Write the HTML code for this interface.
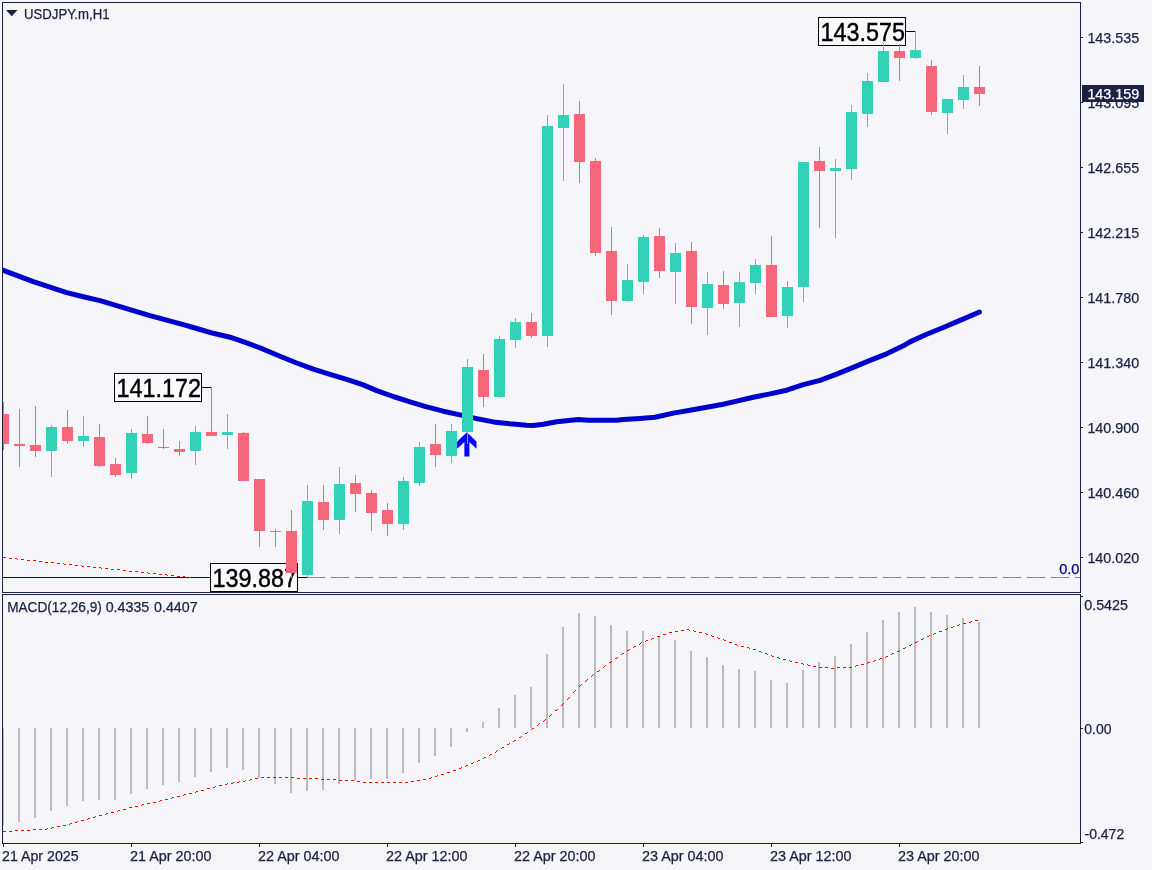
<!DOCTYPE html>
<html lang="en"><head><meta charset="utf-8"><title>USDJPY.m,H1</title>
<style>html,body{margin:0;padding:0;background:#f5f5fa;}body{width:1152px;height:870px;overflow:hidden;}svg{display:block;}text{font-family:"Liberation Sans",sans-serif;font-size:14px;fill:#1c2143;stroke:#1c2143;stroke-width:0.25px;}.big{font-size:25.8px;fill:#000;stroke:#000;stroke-width:0.45px;}</style></head><body>
<svg width="1152" height="870" viewBox="0 0 1152 870">
<rect x="0" y="0" width="1152" height="870" fill="#f5f5fa"/>
<g shape-rendering="crispEdges" fill="#1c2143">
<rect x="2" y="2" width="1079" height="1"/>
<rect x="2" y="2" width="1" height="591"/>
<rect x="2" y="592" width="1079" height="1"/>
<rect x="1080" y="2" width="1" height="591"/>
<rect x="2" y="594" width="1079" height="1"/>
<rect x="2" y="594" width="1" height="250"/>
<rect x="1080" y="594" width="1" height="250"/>
<rect x="2" y="843" width="1079" height="1"/>
<rect x="1081" y="37" width="2" height="1"/>
<rect x="1081" y="102" width="2" height="1"/>
<rect x="1081" y="167" width="2" height="1"/>
<rect x="1081" y="232" width="2" height="1"/>
<rect x="1081" y="297" width="2" height="1"/>
<rect x="1081" y="362" width="2" height="1"/>
<rect x="1081" y="427" width="2" height="1"/>
<rect x="1081" y="492" width="2" height="1"/>
<rect x="1081" y="557" width="2" height="1"/>
<rect x="1081" y="596" width="2" height="1"/>
<rect x="1081" y="728" width="2" height="1"/>
<rect x="1081" y="842" width="2" height="1"/>
<rect x="3" y="844" width="1" height="3"/>
<rect x="131" y="844" width="1" height="3"/>
<rect x="259" y="844" width="1" height="3"/>
<rect x="387" y="844" width="1" height="3"/>
<rect x="515" y="844" width="1" height="3"/>
<rect x="643" y="844" width="1" height="3"/>
<rect x="771" y="844" width="1" height="3"/>
<rect x="899" y="844" width="1" height="3"/>
</g>
<defs><clipPath id="cm"><rect x="3" y="3" width="1077" height="589"/></clipPath><clipPath id="cs"><rect x="3" y="595" width="1077" height="248"/></clipPath></defs>
<g clip-path="url(#cm)">
<g shape-rendering="crispEdges">
<rect x="3" y="577" width="208" height="1" fill="#000080"/>
<rect x="298" y="577" width="10" height="1" fill="#000"/>
<rect x="307" y="577" width="18" height="1" fill="#8c8c8c"/>
<rect x="331" y="577" width="18" height="1" fill="#8c8c8c"/>
<rect x="355" y="577" width="18" height="1" fill="#8c8c8c"/>
<rect x="379" y="577" width="18" height="1" fill="#8c8c8c"/>
<rect x="403" y="577" width="18" height="1" fill="#8c8c8c"/>
<rect x="427" y="577" width="18" height="1" fill="#8c8c8c"/>
<rect x="451" y="577" width="18" height="1" fill="#8c8c8c"/>
<rect x="475" y="577" width="18" height="1" fill="#8c8c8c"/>
<rect x="499" y="577" width="18" height="1" fill="#8c8c8c"/>
<rect x="523" y="577" width="18" height="1" fill="#8c8c8c"/>
<rect x="547" y="577" width="18" height="1" fill="#8c8c8c"/>
<rect x="571" y="577" width="18" height="1" fill="#8c8c8c"/>
<rect x="595" y="577" width="18" height="1" fill="#8c8c8c"/>
<rect x="619" y="577" width="18" height="1" fill="#8c8c8c"/>
<rect x="643" y="577" width="18" height="1" fill="#8c8c8c"/>
<rect x="667" y="577" width="18" height="1" fill="#8c8c8c"/>
<rect x="691" y="577" width="18" height="1" fill="#8c8c8c"/>
<rect x="715" y="577" width="18" height="1" fill="#8c8c8c"/>
<rect x="739" y="577" width="18" height="1" fill="#8c8c8c"/>
<rect x="763" y="577" width="18" height="1" fill="#8c8c8c"/>
<rect x="787" y="577" width="18" height="1" fill="#8c8c8c"/>
<rect x="811" y="577" width="18" height="1" fill="#8c8c8c"/>
<rect x="835" y="577" width="18" height="1" fill="#8c8c8c"/>
<rect x="859" y="577" width="18" height="1" fill="#8c8c8c"/>
<rect x="883" y="577" width="18" height="1" fill="#8c8c8c"/>
<rect x="907" y="577" width="18" height="1" fill="#8c8c8c"/>
<rect x="931" y="577" width="18" height="1" fill="#8c8c8c"/>
<rect x="955" y="577" width="18" height="1" fill="#8c8c8c"/>
<rect x="979" y="577" width="18" height="1" fill="#8c8c8c"/>
<rect x="1003" y="577" width="18" height="1" fill="#8c8c8c"/>
<rect x="1027" y="577" width="18" height="1" fill="#8c8c8c"/>
<rect x="1051" y="577" width="18" height="1" fill="#8c8c8c"/>
<rect x="1075" y="577" width="5" height="1" fill="#8c8c8c"/>
</g>
<path d="M3 557h3M9 558h3M15 558h2M17 559h1M21 559h3M27 560h3M33 560h3M39 561h3M45 562h3M51 562h3M57 563h3M63 563h1M64 564h2M69 564h3M75 565h3M81 565h1M82 566h2M87 566h3M93 567h3M99 567h2M101 568h1M105 568h3M111 569h3M117 569h3M123 570h3M129 571h3M135 571h3M141 572h3M147 572h1M148 573h2M153 573h3M159 574h3M165 574h2M167 575h1M171 575h3M177 576h3M183 576h2M185 577h1M189 577h2" transform="translate(0,0.5)" stroke="#ff0000" stroke-width="1" fill="none" shape-rendering="crispEdges"/>
<path d="M1.0 269.7 L3.3 270.4 L16.7 275.4 L33.3 281.6 L50.0 287.1 L66.7 292.6 L83.3 296.7 L100.0 300.6 L116.7 305.6 L133.3 310.6 L150.0 315.6 L166.7 320.2 L183.3 324.6 L196.7 328.5 L213.3 333.3 L230.0 337.2 L246.7 342.9 L263.3 349.2 L280.0 356.3 L296.7 363.0 L313.3 369.2 L330.0 374.4 L346.7 379.4 L363.3 384.9 L376.7 390.6 L393.3 396.5 L410.0 401.8 L426.7 406.9 L443.3 411.2 L460.0 414.9 L476.7 418.6 L493.3 421.9 L510.0 423.8 L526.7 425.2 L533.3 425.4 L543.3 424.3 L556.7 421.7 L578.3 419.5 L588.3 420.3 L616.7 420.3 L623.3 419.5 L640.0 418.5 L655.0 417.3 L673.3 413.1 L690.0 410.2 L706.7 407.3 L723.3 404.2 L736.7 401.1 L753.3 397.2 L770.0 393.9 L786.7 390.2 L803.3 384.6 L820.0 380.4 L836.7 374.1 L853.3 367.4 L870.0 360.4 L886.7 353.8 L903.3 345.8 L910.0 341.9 L926.7 334.3 L943.3 327.5 L960.0 320.4 L976.7 313.2 L979.5 312.0" stroke="#0000cd" stroke-width="5" fill="none" stroke-linejoin="round" stroke-linecap="round"/>
<rect x="818.5" y="17.5" width="87" height="28" fill="#fafafc" stroke="#000" stroke-width="1" shape-rendering="crispEdges"/>
<text class="big" x="820.5" y="40.6" textLength="84.5" lengthAdjust="spacingAndGlyphs">143.575</text>
<rect x="114.5" y="373.5" width="87" height="28" fill="#fafafc" stroke="#000" stroke-width="1" shape-rendering="crispEdges"/>
<text class="big" x="116.5" y="396.6" textLength="84.5" lengthAdjust="spacingAndGlyphs">141.172</text>
<rect x="210.5" y="563.5" width="87" height="28" fill="#fafafc" stroke="#000" stroke-width="1" shape-rendering="crispEdges"/>
<text class="big" x="212.5" y="586.6" textLength="84.5" lengthAdjust="spacingAndGlyphs">139.887</text>
<g shape-rendering="crispEdges" fill="#000">
<rect x="906" y="31" width="10" height="1"/>
<rect x="202" y="387" width="10" height="1"/>
</g>
<g shape-rendering="crispEdges">
<rect x="3" y="402" width="1" height="48" fill="#f7677a"/>
<rect x="3" y="414" width="6" height="30" fill="#f7677a"/>
<rect x="19" y="409" width="1" height="58" fill="#f7677a"/>
<rect x="14" y="444" width="11" height="2" fill="#f7677a"/>
<rect x="35" y="406" width="1" height="51" fill="#f7677a"/>
<rect x="30" y="445" width="11" height="6" fill="#f7677a"/>
<rect x="51" y="425" width="1" height="52" fill="#33d1b8"/>
<rect x="46" y="427" width="11" height="24" fill="#33d1b8"/>
<rect x="67" y="410" width="1" height="34" fill="#f7677a"/>
<rect x="62" y="427" width="11" height="14" fill="#f7677a"/>
<rect x="83" y="416" width="1" height="31" fill="#33d1b8"/>
<rect x="78" y="436" width="11" height="5" fill="#33d1b8"/>
<rect x="99" y="424" width="1" height="43" fill="#f7677a"/>
<rect x="94" y="437" width="11" height="29" fill="#f7677a"/>
<rect x="115" y="458" width="1" height="19" fill="#f7677a"/>
<rect x="110" y="464" width="11" height="11" fill="#f7677a"/>
<rect x="131" y="429" width="1" height="50" fill="#33d1b8"/>
<rect x="126" y="433" width="11" height="40" fill="#33d1b8"/>
<rect x="147" y="416" width="1" height="28" fill="#f7677a"/>
<rect x="142" y="434" width="11" height="9" fill="#f7677a"/>
<rect x="163" y="429" width="1" height="20" fill="#f7677a"/>
<rect x="158" y="447" width="11" height="1" fill="#f7677a"/>
<rect x="179" y="441" width="1" height="15" fill="#f7677a"/>
<rect x="174" y="449" width="11" height="3" fill="#f7677a"/>
<rect x="195" y="426" width="1" height="39" fill="#33d1b8"/>
<rect x="190" y="432" width="11" height="19" fill="#33d1b8"/>
<rect x="211" y="387" width="1" height="49" fill="#f7677a"/>
<rect x="206" y="432" width="11" height="4" fill="#f7677a"/>
<rect x="227" y="414" width="1" height="35" fill="#33d1b8"/>
<rect x="222" y="432" width="11" height="3" fill="#33d1b8"/>
<rect x="243" y="432" width="1" height="49" fill="#f7677a"/>
<rect x="238" y="433" width="11" height="48" fill="#f7677a"/>
<rect x="259" y="479" width="1" height="68" fill="#f7677a"/>
<rect x="254" y="479" width="11" height="52" fill="#f7677a"/>
<rect x="275" y="529" width="1" height="18" fill="#f7677a"/>
<rect x="270" y="531" width="11" height="1" fill="#f7677a"/>
<rect x="291" y="510" width="1" height="68" fill="#f7677a"/>
<rect x="286" y="531" width="11" height="42" fill="#f7677a"/>
<rect x="307" y="485" width="1" height="93" fill="#33d1b8"/>
<rect x="302" y="501" width="11" height="74" fill="#33d1b8"/>
<rect x="323" y="485" width="1" height="45" fill="#f7677a"/>
<rect x="318" y="502" width="11" height="18" fill="#f7677a"/>
<rect x="339" y="467" width="1" height="67" fill="#33d1b8"/>
<rect x="334" y="484" width="11" height="36" fill="#33d1b8"/>
<rect x="355" y="475" width="1" height="37" fill="#f7677a"/>
<rect x="350" y="483" width="11" height="11" fill="#f7677a"/>
<rect x="371" y="490" width="1" height="41" fill="#f7677a"/>
<rect x="366" y="493" width="11" height="20" fill="#f7677a"/>
<rect x="387" y="503" width="1" height="33" fill="#f7677a"/>
<rect x="382" y="510" width="11" height="14" fill="#f7677a"/>
<rect x="403" y="477" width="1" height="53" fill="#33d1b8"/>
<rect x="398" y="481" width="11" height="43" fill="#33d1b8"/>
<rect x="419" y="442" width="1" height="44" fill="#33d1b8"/>
<rect x="414" y="447" width="11" height="36" fill="#33d1b8"/>
<rect x="435" y="424" width="1" height="43" fill="#f7677a"/>
<rect x="430" y="444" width="11" height="11" fill="#f7677a"/>
<rect x="451" y="424" width="1" height="39" fill="#33d1b8"/>
<rect x="446" y="431" width="11" height="25" fill="#33d1b8"/>
<rect x="467" y="359" width="1" height="85" fill="#33d1b8"/>
<rect x="462" y="367" width="11" height="65" fill="#33d1b8"/>
<rect x="483" y="354" width="1" height="53" fill="#f7677a"/>
<rect x="478" y="370" width="11" height="27" fill="#f7677a"/>
<rect x="499" y="336" width="1" height="62" fill="#33d1b8"/>
<rect x="494" y="339" width="11" height="58" fill="#33d1b8"/>
<rect x="515" y="318" width="1" height="30" fill="#33d1b8"/>
<rect x="510" y="322" width="11" height="18" fill="#33d1b8"/>
<rect x="531" y="313" width="1" height="25" fill="#f7677a"/>
<rect x="526" y="322" width="11" height="14" fill="#f7677a"/>
<rect x="547" y="115" width="1" height="232" fill="#33d1b8"/>
<rect x="542" y="126" width="11" height="210" fill="#33d1b8"/>
<rect x="563" y="84" width="1" height="97" fill="#33d1b8"/>
<rect x="558" y="115" width="11" height="13" fill="#33d1b8"/>
<rect x="579" y="101" width="1" height="82" fill="#f7677a"/>
<rect x="574" y="114" width="11" height="48" fill="#f7677a"/>
<rect x="595" y="158" width="1" height="98" fill="#f7677a"/>
<rect x="590" y="161" width="11" height="92" fill="#f7677a"/>
<rect x="611" y="227" width="1" height="88" fill="#f7677a"/>
<rect x="606" y="251" width="11" height="50" fill="#f7677a"/>
<rect x="627" y="264" width="1" height="38" fill="#33d1b8"/>
<rect x="622" y="280" width="11" height="21" fill="#33d1b8"/>
<rect x="643" y="235" width="1" height="59" fill="#33d1b8"/>
<rect x="638" y="237" width="11" height="45" fill="#33d1b8"/>
<rect x="659" y="228" width="1" height="50" fill="#f7677a"/>
<rect x="654" y="236" width="11" height="35" fill="#f7677a"/>
<rect x="675" y="243" width="1" height="61" fill="#33d1b8"/>
<rect x="670" y="253" width="11" height="19" fill="#33d1b8"/>
<rect x="691" y="242" width="1" height="82" fill="#f7677a"/>
<rect x="686" y="251" width="11" height="56" fill="#f7677a"/>
<rect x="707" y="272" width="1" height="63" fill="#33d1b8"/>
<rect x="702" y="284" width="11" height="24" fill="#33d1b8"/>
<rect x="723" y="271" width="1" height="38" fill="#f7677a"/>
<rect x="718" y="285" width="11" height="19" fill="#f7677a"/>
<rect x="739" y="272" width="1" height="55" fill="#33d1b8"/>
<rect x="734" y="282" width="11" height="21" fill="#33d1b8"/>
<rect x="755" y="259" width="1" height="35" fill="#33d1b8"/>
<rect x="750" y="265" width="11" height="18" fill="#33d1b8"/>
<rect x="771" y="236" width="1" height="81" fill="#f7677a"/>
<rect x="766" y="265" width="11" height="52" fill="#f7677a"/>
<rect x="787" y="281" width="1" height="47" fill="#33d1b8"/>
<rect x="782" y="287" width="11" height="29" fill="#33d1b8"/>
<rect x="803" y="162" width="1" height="140" fill="#33d1b8"/>
<rect x="798" y="162" width="11" height="125" fill="#33d1b8"/>
<rect x="819" y="147" width="1" height="81" fill="#f7677a"/>
<rect x="814" y="161" width="11" height="10" fill="#f7677a"/>
<rect x="835" y="159" width="1" height="79" fill="#33d1b8"/>
<rect x="830" y="168" width="11" height="3" fill="#33d1b8"/>
<rect x="851" y="105" width="1" height="75" fill="#33d1b8"/>
<rect x="846" y="112" width="11" height="57" fill="#33d1b8"/>
<rect x="867" y="73" width="1" height="54" fill="#33d1b8"/>
<rect x="862" y="81" width="11" height="33" fill="#33d1b8"/>
<rect x="883" y="43" width="1" height="39" fill="#33d1b8"/>
<rect x="878" y="51" width="11" height="31" fill="#33d1b8"/>
<rect x="899" y="44" width="1" height="37" fill="#f7677a"/>
<rect x="894" y="51" width="11" height="7" fill="#f7677a"/>
<rect x="915" y="31" width="1" height="28" fill="#33d1b8"/>
<rect x="910" y="50" width="11" height="8" fill="#33d1b8"/>
<rect x="931" y="60" width="1" height="55" fill="#f7677a"/>
<rect x="926" y="66" width="11" height="46" fill="#f7677a"/>
<rect x="947" y="99" width="1" height="35" fill="#33d1b8"/>
<rect x="942" y="99" width="11" height="14" fill="#33d1b8"/>
<rect x="963" y="75" width="1" height="34" fill="#33d1b8"/>
<rect x="958" y="87" width="11" height="13" fill="#33d1b8"/>
<rect x="979" y="66" width="1" height="40" fill="#f7677a"/>
<rect x="974" y="87" width="11" height="7" fill="#f7677a"/>
</g>
<rect x="256.5" y="472.5" width="5" height="6" fill="none" stroke="#fff" stroke-width="1" shape-rendering="crispEdges"/>
<path d="M466.9 432.3 L476.5 441.6 L476.5 448.8 L469.4 442.1 L469.4 456.5 L464.4 456.5 L464.4 442.1 L457.1 448.8 L457.1 441.7 Z" fill="#0000ff"/>
<rect x="467" y="432" width="1" height="12" fill="#33d1b8" shape-rendering="crispEdges"/>
</g>
<g clip-path="url(#cs)">
<g shape-rendering="crispEdges" fill="#bbbbbb">
<rect x="3" y="728" width="1" height="97"/>
<rect x="18" y="728" width="2" height="94"/>
<rect x="34" y="728" width="2" height="90"/>
<rect x="50" y="728" width="2" height="83"/>
<rect x="66" y="728" width="2" height="78"/>
<rect x="82" y="728" width="2" height="73"/>
<rect x="98" y="728" width="2" height="72"/>
<rect x="114" y="728" width="2" height="72"/>
<rect x="130" y="728" width="2" height="66"/>
<rect x="146" y="728" width="2" height="61"/>
<rect x="162" y="728" width="2" height="57"/>
<rect x="178" y="728" width="2" height="54"/>
<rect x="194" y="728" width="2" height="49"/>
<rect x="210" y="728" width="2" height="44"/>
<rect x="226" y="728" width="2" height="40"/>
<rect x="242" y="728" width="2" height="42"/>
<rect x="258" y="728" width="2" height="50"/>
<rect x="274" y="728" width="2" height="56"/>
<rect x="290" y="728" width="2" height="65"/>
<rect x="306" y="728" width="2" height="63"/>
<rect x="322" y="728" width="2" height="62"/>
<rect x="338" y="728" width="2" height="56"/>
<rect x="354" y="728" width="2" height="52"/>
<rect x="370" y="728" width="2" height="51"/>
<rect x="386" y="728" width="2" height="51"/>
<rect x="402" y="728" width="2" height="45"/>
<rect x="418" y="728" width="2" height="35"/>
<rect x="434" y="728" width="2" height="28"/>
<rect x="450" y="728" width="2" height="19"/>
<rect x="466" y="728" width="2" height="4"/>
<rect x="482" y="722" width="2" height="6"/>
<rect x="498" y="708" width="2" height="20"/>
<rect x="514" y="695" width="2" height="33"/>
<rect x="530" y="687" width="2" height="41"/>
<rect x="546" y="654" width="2" height="74"/>
<rect x="562" y="627" width="2" height="101"/>
<rect x="578" y="613" width="2" height="115"/>
<rect x="594" y="616" width="2" height="112"/>
<rect x="610" y="625" width="2" height="103"/>
<rect x="626" y="631" width="2" height="97"/>
<rect x="642" y="631" width="2" height="97"/>
<rect x="658" y="636" width="2" height="92"/>
<rect x="674" y="640" width="2" height="88"/>
<rect x="690" y="651" width="2" height="77"/>
<rect x="706" y="657" width="2" height="71"/>
<rect x="722" y="665" width="2" height="63"/>
<rect x="738" y="669" width="2" height="59"/>
<rect x="754" y="671" width="2" height="57"/>
<rect x="770" y="680" width="2" height="48"/>
<rect x="786" y="683" width="2" height="45"/>
<rect x="802" y="670" width="2" height="58"/>
<rect x="818" y="662" width="2" height="66"/>
<rect x="834" y="656" width="2" height="72"/>
<rect x="850" y="644" width="2" height="84"/>
<rect x="866" y="632" width="2" height="96"/>
<rect x="882" y="620" width="2" height="108"/>
<rect x="898" y="612" width="2" height="116"/>
<rect x="914" y="607" width="2" height="121"/>
<rect x="930" y="612" width="2" height="116"/>
<rect x="946" y="615" width="2" height="113"/>
<rect x="962" y="618" width="2" height="110"/>
<rect x="978" y="622" width="2" height="106"/>
</g>
<path d="M3 831h3M9 831h3M15 830h3M21 830h3M27 830h3M33 829h3M39 829h3M45 829h2M47 828h1M51 828h1M52 827h2M57 826h3M63 825h3M69 824h1M70 823h2M75 822h2M77 821h1M81 820h3M87 819h1M88 818h2M93 817h2M95 816h1M99 815h3M105 814h1M106 813h2M111 812h3M117 811h1M118 810h2M123 809h3M129 807h3M135 806h3M141 805h1M142 804h2M147 803h3M153 802h3M159 801h1M160 800h2M165 799h3M171 798h1M172 797h2M177 796h3M183 795h1M184 794h2M189 793h3M195 792h1M196 791h2M201 790h3M207 788h3M213 787h2M215 786h1M219 785h3M225 784h2M227 783h1M231 783h2M233 782h1M237 782h2M239 781h1M243 781h2M245 780h1M249 780h1M250 779h2M255 778h3M261 777h3M267 777h3M273 777h3M279 777h3M285 777h3M291 777h3M297 778h3M303 778h3M309 778h3M315 778h3M321 779h3M327 779h3M333 779h3M339 780h3M345 780h3M351 780h3M357 781h3M363 782h3M369 782h3M375 782h3M381 782h3M387 782h3M393 782h3M399 782h3M405 782h3M411 781h3M417 780h3M423 779h3M429 778h2M431 777h1M435 776h2M437 775h1M441 774h3M447 772h3M453 770h3M459 768h2M461 767h1M465 766h1M466 765h2M471 763h2M473 762h1M477 761h1M478 760h2M483 758h1M484 757h2M489 755h1M490 754h2M495 752h1M496 751h1M497 750h1M501 748h1M502 747h2M507 744h2M509 743h1M513 741h1M514 740h2M519 737h2M521 736h1M525 733h2M527 732h1M531 729h1M532 728h2M537 725h1M538 724h1M539 723h1M543 721h1M544 720h1M545 719h1M549 716h1M550 715h1M551 714h1M555 710h2M557 709h1M561 705h1M562 704h1M563 703h1M567 699h1M568 698h1M569 697h1M573 692h1M574 691h1M575 690h1M579 686h1M580 685h1M581 684h1M585 681h1M586 680h1M587 679h1M591 676h1M592 675h1M593 674h1M597 671h2M599 670h1M603 667h1M604 666h1M605 665h1M609 662h2M611 661h1M615 658h2M617 657h1M621 654h1M622 653h2M627 650h2M629 649h1M633 647h1M634 646h2M639 644h1M640 643h1M641 642h1M645 641h1M646 640h2M651 639h1M652 638h2M657 636h3M663 634h3M669 632h3M675 631h3M681 630h3M687 629h2M689 630h1M693 630h1M694 631h2M699 632h3M705 633h1M706 634h2M711 635h1M712 636h2M717 637h1M718 638h2M723 639h1M724 640h2M729 642h3M735 644h2M737 645h1M741 646h3M747 647h2M749 648h1M753 649h3M759 651h2M761 652h1M765 653h2M767 654h1M771 655h1M772 656h2M777 657h2M779 658h1M783 659h3M789 660h1M790 661h2M795 662h3M801 663h2M803 664h1M807 664h1M808 665h2M813 666h3M819 667h3M825 667h3M831 668h3M837 667h3M843 667h3M849 667h3M855 666h1M856 665h2M861 664h3M867 663h1M868 662h2M873 661h1M874 660h2M879 659h1M880 658h2M885 657h1M886 656h2M891 654h1M892 653h2M897 651h2M899 650h1M903 648h2M905 647h1M909 645h2M911 644h1M915 642h2M917 641h1M921 639h2M923 638h1M927 636h2M929 635h1M933 634h1M934 633h2M939 631h3M945 629h2M947 628h1M951 627h2M953 626h1M957 625h2M959 624h1M963 623h3M969 622h2M971 621h1M975 620h3" transform="translate(0,0.5)" stroke="#ff0000" stroke-width="1" fill="none" shape-rendering="crispEdges"/>
</g>
<path d="M6 10 L17.5 10 L11.75 16.2 Z" fill="#1c2143"/>
<text x="24" y="19" textLength="85.5" lengthAdjust="spacingAndGlyphs">USDJPY.m,H1</text>
<text y="612"><tspan x="7.2" textLength="94.6" lengthAdjust="spacingAndGlyphs">MACD(12,26,9)</tspan> <tspan x="105.7" textLength="43.6" lengthAdjust="spacingAndGlyphs">0.4335</tspan> <tspan x="154" textLength="43.6" lengthAdjust="spacingAndGlyphs">0.4407</tspan></text>
<text x="1087.4" y="42.8" textLength="51.8" lengthAdjust="spacingAndGlyphs">143.535</text>
<text x="1087.4" y="107.8" textLength="51.8" lengthAdjust="spacingAndGlyphs">143.095</text>
<text x="1087.4" y="172.8" textLength="51.8" lengthAdjust="spacingAndGlyphs">142.655</text>
<text x="1087.4" y="237.8" textLength="51.8" lengthAdjust="spacingAndGlyphs">142.215</text>
<text x="1087.4" y="302.8" textLength="51.8" lengthAdjust="spacingAndGlyphs">141.780</text>
<text x="1087.4" y="367.8" textLength="51.8" lengthAdjust="spacingAndGlyphs">141.340</text>
<text x="1087.4" y="432.8" textLength="51.8" lengthAdjust="spacingAndGlyphs">140.900</text>
<text x="1087.4" y="497.8" textLength="51.8" lengthAdjust="spacingAndGlyphs">140.460</text>
<text x="1087.4" y="562.8" textLength="51.8" lengthAdjust="spacingAndGlyphs">140.020</text>
<text x="1059.2" y="573.8" textLength="20.2" lengthAdjust="spacingAndGlyphs" style="fill:#00008b;stroke:#00008b">0.0</text>
<rect x="1082" y="85" width="62" height="17" fill="#1c2143" shape-rendering="crispEdges"/>
<text x="1087.4" y="98.8" textLength="51.8" lengthAdjust="spacingAndGlyphs" style="fill:#fff;stroke:#fff">143.159</text>
<text x="1084.2" y="609.8" textLength="43.8" lengthAdjust="spacingAndGlyphs">0.5425</text>
<text x="1084.3" y="734.2">0.00</text>
<text x="1084.5" y="839.2">-0.472</text>
<text x="2.0" y="861" textLength="76.6" lengthAdjust="spacingAndGlyphs">21 Apr 2025</text>
<text x="130.0" y="861" textLength="81.6" lengthAdjust="spacingAndGlyphs">21 Apr 20:00</text>
<text x="258.0" y="861" textLength="81.6" lengthAdjust="spacingAndGlyphs">22 Apr 04:00</text>
<text x="386.0" y="861" textLength="81.6" lengthAdjust="spacingAndGlyphs">22 Apr 12:00</text>
<text x="514.0" y="861" textLength="81.6" lengthAdjust="spacingAndGlyphs">22 Apr 20:00</text>
<text x="642.0" y="861" textLength="81.6" lengthAdjust="spacingAndGlyphs">23 Apr 04:00</text>
<text x="770.0" y="861" textLength="81.6" lengthAdjust="spacingAndGlyphs">23 Apr 12:00</text>
<text x="898.0" y="861" textLength="81.6" lengthAdjust="spacingAndGlyphs">23 Apr 20:00</text>
</svg></body></html>
